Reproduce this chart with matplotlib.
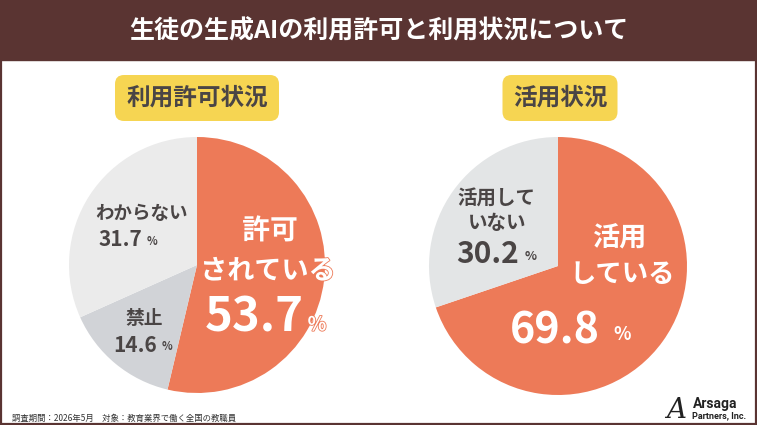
import matplotlib.pyplot as plt
import matplotlib.patheffects as pe
from matplotlib.patches import FancyBboxPatch, Rectangle

plt.rcParams['font.family'] = ['Noto Sans CJK JP', 'DejaVu Sans']

title = "生徒の生成AIの利用許可と利用状況について"
footer = "調査期間：2026年5月　対象：教育業界で働く全国の教職員"

# 利用許可状況
permit_labels = ["許可されている", "禁止", "わからない"]
permit_values = [53.7, 14.6, 31.7]
permit_colors = ["#ED7A58", "#D1D3D7", "#EBEBEB"]

# 活用状況
use_labels = ["活用している", "活用していない"]
use_values = [69.8, 30.2]
use_colors = ["#ED7A58", "#E3E5E6"]

W, H = 757, 425
BROWN = "#5A3432"
DARK = "#4A4545"
ORANGE = "#ED7A58"

fig = plt.figure(figsize=(W / 100, H / 100), dpi=100)
ax = fig.add_axes([0, 0, 1, 1])


def Y(py):
    return H - py


def txt(x, py, s, size, color=DARK, ha="center", outline=None, **kw):
    t = ax.text(x, Y(py), s, fontsize=size, color=color, ha=ha, va="center",
                fontweight="bold", **kw)
    if outline:
        t.set_path_effects([pe.withStroke(linewidth=1.2, foreground=outline)])
    return t


# header + frame
ax.add_patch(Rectangle((0, Y(60)), W, 60, color=BROWN, zorder=0))
ax.add_patch(Rectangle((0.8, 0.8), W - 1.6, H - 1.6, fill=False, ec=BROWN, lw=1.6, zorder=5))
txt(W / 2, 31, title, 18, color="white")

# pies
ax.pie(permit_values, colors=permit_colors, startangle=90, counterclock=False,
       center=(197, Y(265)), radius=128, wedgeprops=dict(linewidth=0), frame=True)
ax.pie(use_values, colors=use_colors, startangle=90, counterclock=False,
       center=(558, Y(266)), radius=129, wedgeprops=dict(linewidth=0), frame=True)

# subtitle boxes
for cx, w, s in [(197, 164, "利用許可状況"), (560, 115, "活用状況")]:
    ax.add_patch(FancyBboxPatch((cx - w / 2, Y(121)), w, 46,
                                boxstyle="round,pad=0,rounding_size=9",
                                fc="#F6D552", ec="none", zorder=3))
    txt(cx, 98, s, 17, zorder=4)

# left pie labels
txt(270, 231, "許可", 20, color="white", outline=ORANGE)
txt(268, 271, "されている", 19.5, color="white", outline=ORANGE)
txt(254, 318, f"{permit_values[0]}", 34, color="white")
txt(317, 325, "%", 14, color="white", outline=ORANGE)

txt(141, 213, "わからない", 13.3)
txt(120, 239, f"{permit_values[2]}", 15)
txt(152, 241, "%", 8)
txt(144, 318, "禁止", 13.5)
txt(135, 345, f"{permit_values[1]}", 15)
txt(167, 347, "%", 8)

# right pie labels
txt(496, 199, "活用して", 14)
txt(497, 223, "いない", 14)
txt(488, 254, f"{use_values[1]}", 21.5)
txt(531, 256, "%", 9)

txt(620, 237, "活用", 19.5, color="white")
txt(622, 275, "している", 19, color="white")
txt(555, 330, f"{use_values[0]}", 31, color="white")
txt(622, 335, "%", 13, color="white")

# footer and logo
ax.text(12, Y(418), footer, fontsize=6, color="#333333", ha="left", va="center")
ax.text(676, Y(410), "A", fontsize=20, color="#222222", ha="center", va="center",
        style="italic", family="DejaVu Serif")
ax.text(693, Y(404), "Arsaga", fontsize=10, color="#222222", ha="left", va="center",
        fontweight="bold", family="Roboto")
ax.text(692, Y(416), "Partners, Inc.", fontsize=6.5, color="#222222", ha="left", va="center",
        fontweight="bold", family="Roboto")

ax.set_xlim(0, W)
ax.set_ylim(0, H)
ax.set_aspect("auto")
ax.axis("off")

fig.savefig("out.png", dpi=100, facecolor="white")
